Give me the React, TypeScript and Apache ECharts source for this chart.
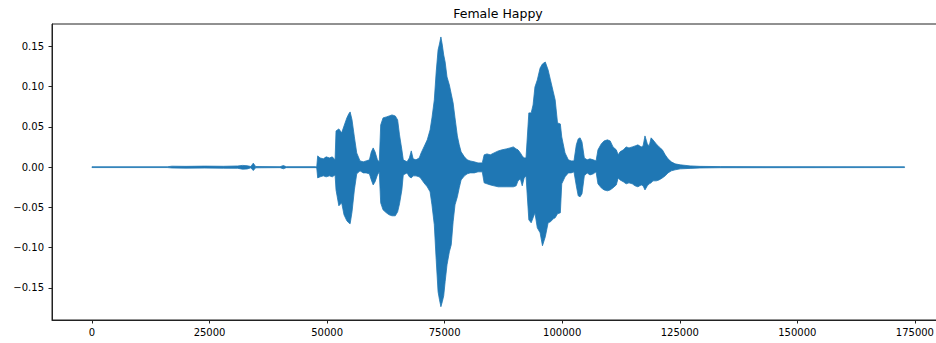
import React, { useEffect, useRef } from "react";
import * as echarts from "echarts";

// Waveform envelope: sample index, upper and lower amplitude
const SAMPLES = [
  0, 16000, 17000, 20000, 24000, 28000, 31000, 32000, 33000, 33800, 34300, 34800,
  40000, 40700, 41300, 47500, 47800, 48000, 48500, 49200, 49800, 50500, 51100, 51700,
  51900, 52500, 53100, 53600, 54200, 54600, 54900, 55300, 55800, 56300, 57000, 57700,
  58300, 59000, 59400, 59800, 60200, 60700, 61100, 61400, 61900, 62600, 63200, 63800,
  64500, 65000, 65400, 65900, 66200, 67000, 67500, 67900, 68300, 68900, 69600, 70000,
  70600, 71300, 71900, 72300, 72800, 73200, 73600, 73900, 74200, 74500, 74800, 75100,
  75500, 76000, 76400, 76800, 77200, 77700, 78100, 78500, 79200, 79800, 80400, 81300,
  82100, 83000, 83400, 84000, 84700, 85500, 86400, 87200, 88100, 88900, 89600, 90200,
  90600, 91100, 91500, 91900, 92300, 92900, 93400, 93800, 94200, 94700, 95300, 95800,
  96400, 97000, 97500, 98100, 98500, 99000, 99600, 99900, 100600, 101300, 101900, 102500,
  103000, 103400, 103800, 104200, 104700, 105300, 105900, 106600, 107200, 107600, 108300, 108900,
  109600, 110200, 110800, 111500, 111900, 112300, 113000, 113600, 114200, 114900, 115500, 116100,
  116800, 117200, 117600, 118100, 118500, 118900, 119300, 120000, 120600, 121300, 121900, 122500,
  123200, 124000, 125100, 127200, 129300, 133600, 172800,
];

const UPPER = [
  0.0005, 0.0005, 0.0012, 0.001, 0.0013, 0.0011, 0.0015, 0.0022, 0.0018, 0.0008, 0.005, 0.0008,
  0.0006, 0.002, 0.0006, 0.0006, 0.0004, 0.014, 0.0115, 0.0103, 0.0128, 0.0115, 0.0128, 0.0091,
  0.045, 0.0475, 0.0426, 0.0512, 0.0612, 0.0661, 0.0686, 0.0587, 0.0376, 0.0177, 0.0078, 0.0066,
  0.0078, 0.0091, 0.019, 0.0239, 0.019, 0.0091, 0.0066, 0.0525, 0.0612, 0.0624, 0.0636, 0.0649,
  0.0636, 0.0587, 0.0401, 0.0215, 0.0091, 0.0066, 0.0115, 0.0202, 0.0103, 0.0091, 0.0115, 0.0177,
  0.0252, 0.0339, 0.0463, 0.0612, 0.0835, 0.1182, 0.1455, 0.153, 0.1617, 0.1517, 0.1393, 0.1306,
  0.112, 0.1021, 0.0909, 0.0798, 0.0612, 0.0388, 0.0277, 0.019, 0.0128, 0.0091, 0.0078, 0.0066,
  0.0053, 0.0053, 0.0153, 0.0165, 0.0153, 0.0177, 0.0202, 0.0215, 0.0227, 0.0239, 0.0252, 0.0227,
  0.0215, 0.0177, 0.014, 0.0115, 0.0115, 0.0674, 0.0674, 0.0773, 0.0996, 0.1083, 0.1232, 0.1282,
  0.1306, 0.1207, 0.1083, 0.0934, 0.0835, 0.055, 0.0537, 0.0376, 0.0177, 0.0091, 0.0078, 0.0078,
  0.0277, 0.0351, 0.0364, 0.0314, 0.0115, 0.0091, 0.0103, 0.0091, 0.0078, 0.0215, 0.0289, 0.0326,
  0.0339, 0.0326, 0.0252, 0.0215, 0.0153, 0.019, 0.0215, 0.0252, 0.0239, 0.0252, 0.0264, 0.0277,
  0.0252, 0.0264, 0.0388, 0.0289, 0.0264, 0.0364, 0.0339, 0.0289, 0.0252, 0.0215, 0.0153, 0.0103,
  0.0066, 0.0041, 0.0029, 0.0016, 0.001, 0.0007, 0.0005,
];

const LOWER = [
  -0.0005, -0.0005, -0.001, -0.0012, -0.0011, -0.0013, -0.0014, -0.0025, -0.0022, -0.0008, -0.0042, -0.0008,
  -0.0006, -0.002, -0.0006, -0.0006, -0.0009, -0.0133, -0.012, -0.0108, -0.012, -0.0108, -0.012, -0.0096,
  -0.0282, -0.048, -0.0443, -0.0592, -0.0666, -0.0691, -0.0703, -0.0555, -0.0282, -0.0083, -0.0046, -0.0071,
  -0.0071, -0.0083, -0.0158, -0.022, -0.0182, -0.0096, -0.0058, -0.0443, -0.053, -0.0567, -0.0592, -0.0604,
  -0.0604, -0.0555, -0.0455, -0.0282, -0.0096, -0.0071, -0.012, -0.0133, -0.0108, -0.0108, -0.012, -0.0145,
  -0.0195, -0.0244, -0.0306, -0.0468, -0.0716, -0.115, -0.1547, -0.1646, -0.1733, -0.1671, -0.1597, -0.1423,
  -0.1212, -0.1051, -0.0964, -0.0679, -0.0468, -0.0368, -0.0257, -0.0158, -0.0108, -0.0083, -0.0071, -0.0071,
  -0.0058, -0.0058, -0.0195, -0.0207, -0.022, -0.0232, -0.0244, -0.0244, -0.0244, -0.0244, -0.0244, -0.0232,
  -0.017, -0.0145, -0.0232, -0.0133, -0.0108, -0.0654, -0.0691, -0.0629, -0.0567, -0.0753, -0.0815, -0.0976,
  -0.0865, -0.0691, -0.0679, -0.0641, -0.0629, -0.0579, -0.0567, -0.0207, -0.012, -0.0071, -0.0071, -0.0058,
  -0.0232, -0.0356, -0.0368, -0.0331, -0.0108, -0.0071, -0.0096, -0.0083, -0.0058, -0.0207, -0.0257, -0.0282,
  -0.0294, -0.0282, -0.0257, -0.022, -0.0133, -0.0158, -0.0182, -0.0207, -0.0195, -0.0207, -0.0232, -0.0244,
  -0.022, -0.0232, -0.0282, -0.0232, -0.0207, -0.0195, -0.017, -0.017, -0.0158, -0.0133, -0.0108, -0.0071,
  -0.0046, -0.0033, -0.0021, -0.0015, -0.001, -0.0007, -0.0005,
];

const X_TICKS = [0, 25000, 50000, 75000, 100000, 125000, 150000, 175000];
const Y_TICKS = [-0.15, -0.1, -0.05, 0, 0.05, 0.1, 0.15];
const TITLE = "Female Happy";

const COLOR = "#1f77b4";
const FONT = "DejaVu Sans";

export default function App() {
  const ref = useRef<HTMLDivElement>(null);

  useEffect(() => {
    if (!ref.current) return;
    const chart = echarts.init(ref.current, undefined, { renderer: "svg" });
    const data = SAMPLES.map((s, i) => [s, UPPER[i], LOWER[i]]);

    chart.setOption({
      animation: false,
      backgroundColor: "#ffffff",
      graphic: [
        {
          type: "text",
          x: 498,
          y: 13,
          style: {
            text: TITLE,
            fontFamily: FONT,
            fontSize: 12.5,
            fill: "#000",
            align: "center",
            verticalAlign: "middle",
          },
        },
      ],
      grid: {
        left: 52,
        right: 0,
        top: 24,
        height: 296,
        show: true,
        borderColor: "#222",
        borderWidth: 1,
        backgroundColor: "transparent",
      },
      xAxis: {
        type: "value",
        min: -8500,
        max: 181400,
        splitLine: { show: false },
        axisLine: { show: true, onZero: false, lineStyle: { color: "#222", width: 1 } },
        axisTick: {
          show: true,
          inside: false,
          length: 3.5,
          customValues: X_TICKS,
          lineStyle: { color: "#222", width: 1 },
        },
        axisLabel: {
          customValues: X_TICKS,
          fontFamily: FONT,
          fontSize: 10,
          color: "#000",
          margin: 7,
          formatter: (v: number) => String(v),
        },
      },
      yAxis: {
        type: "value",
        min: -0.1898,
        max: 0.1778,
        splitLine: { show: false },
        axisLine: { show: true, onZero: false, lineStyle: { color: "#222", width: 1 } },
        axisTick: {
          show: true,
          inside: false,
          length: 3.5,
          customValues: Y_TICKS,
          lineStyle: { color: "#222", width: 1 },
        },
        axisLabel: {
          customValues: Y_TICKS,
          fontFamily: FONT,
          fontSize: 10,
          color: "#000",
          margin: 8,
          formatter: (v: number) =>
            (v < -1e-9 ? "\u2212" : "") + Math.abs(v).toFixed(2),
        },
      },
      series: [
        {
          type: "custom",
          clip: true,
          encode: { x: 0, y: [1, 2] },
          data,
          renderItem: (params: any, api: any) => {
            if (params.dataIndexInside !== 0) return null;
            const n = params.dataInsideLength;
            const pts: number[][] = [];
            for (let j = 0; j < n; j++) {
              pts.push(api.coord([api.value(0, j), api.value(1, j)]));
            }
            for (let j = n - 1; j >= 0; j--) {
              pts.push(api.coord([api.value(0, j), api.value(2, j)]));
            }
            return {
              type: "polygon",
              shape: { points: pts },
              style: {
                fill: COLOR,
                stroke: COLOR,
                lineWidth: 0.8,
                lineJoin: "round",
              },
            };
          },
        },
      ],
    });

    return () => chart.dispose();
  }, []);

  return (
    <div
      ref={ref}
      style={{ position: "fixed", left: 0, top: 0, width: 945, height: 343 }}
    />
  );
}
